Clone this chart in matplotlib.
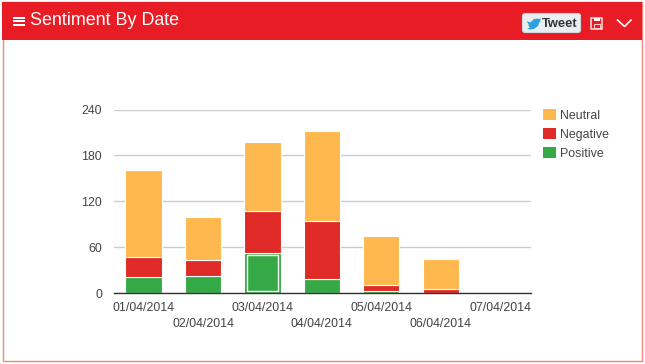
import matplotlib
matplotlib.use("Agg")
import matplotlib.pyplot as plt
from matplotlib.patches import Rectangle, FancyBboxPatch, Polygon, Patch

plt.rcParams['font.family'] = ['Liberation Sans', 'DejaVu Sans']

# Chart data
dates = ['01/04/2014', '02/04/2014', '03/04/2014', '04/04/2014', '05/04/2014', '06/04/2014', '07/04/2014']
positive = [21, 22, 53, 19, 3, 0, 0]
negative = [26, 22, 54, 76, 8, 6, 0]
neutral = [114, 56, 90, 117, 64, 39, 1]
y_ticks = [0, 60, 120, 180, 240]
title = 'Sentiment By Date'
hover_index = 2

W, H = 645, 364
RED = '#e71c24'
BORDER = '#ee8a7c'
C_NEU = '#ffb84d'
C_NEG = '#e02a27'
C_POS = '#36a947'
TXT = '#444444'

fig = plt.figure(figsize=(W / 100, H / 100), dpi=100)

# Overlay in pixel coords for the panel chrome
ov = fig.add_axes([0, 0, 1, 1], zorder=0)
ov.set_xlim(0, W)
ov.set_ylim(H, 0)
ov.axis('off')
ov.add_patch(Rectangle((2.5, 2), 639, 359, fc='white', ec=BORDER, lw=1))
ov.add_patch(Rectangle((2, 2), 640, 38, fc=RED, ec='none'))

# Hamburger icon
for y in [17.7, 21.3, 25]:
    ov.add_patch(Rectangle((13, y - 0.9), 12, 1.9, fc='white', ec='none'))
ov.text(30, 25, title, color='white', fontsize=12.85, ha='left', va='baseline')

# Tweet button
ov.add_patch(FancyBboxPatch((522.5, 13.5), 58, 19, boxstyle='round,pad=0,rounding_size=2.5',
                            fc='#e9eef1', ec='#d0d8dc', lw=0.8))
bird = [(527, 21), (530, 22.5), (532, 21), (534, 19), (537, 18.5), (539, 19), (541, 18.5),
        (540, 20.5), (541, 21), (539.5, 22), (538, 26), (534, 29), (530, 29.5), (527, 28.5),
        (530, 27.8), (528, 25), (529, 24.8), (527.5, 22.8)]
ov.add_patch(Polygon(bird, closed=True, fc='#2aa3dc', ec='none'))
ov.text(542, 27.3, 'Tweet', color='#333333', fontsize=9.3, fontweight='bold', ha='left', va='baseline')

# Save icon
ov.add_patch(Rectangle((591.3, 17.8), 10.5, 10.7, fc='none', ec='#ffe0e0', lw=1.1))
ov.add_patch(Rectangle((594, 17.8), 5.5, 3.5, fc='white', ec='none'))
ov.add_patch(Rectangle((594, 24.2), 5.5, 4.3, fc='none', ec='#ffd0d0', lw=0.7))

# Chevron
ov.plot([617.5, 624.5, 631], [20, 26.5, 20], color='white', lw=1.2)

# Plot area
left, right, top, bottom = 113.9, 531, 109.5, 293.3
ax = fig.add_axes([left / W, 1 - bottom / H, (right - left) / W, (bottom - top) / H], zorder=1)
ax.patch.set_alpha(0)
x = list(range(len(dates)))
bar_w = 0.61

neg_bottom = positive
neu_bottom = [p + n for p, n in zip(positive, negative)]
ax.bar(x, positive, bar_w, color=C_POS, edgecolor='white', linewidth=0.8, zorder=3)
ax.bar(x, negative, bar_w, bottom=neg_bottom, color=C_NEG, edgecolor='white', linewidth=0.8, zorder=3)
ax.bar(x, neutral, bar_w, bottom=neu_bottom, color=C_NEU, edgecolor='white',
       linewidth=[0.8] * 6 + [0], zorder=3)

# Hovered bar gets an inner white outline
ax.bar(hover_index, positive[hover_index] - 6.5, bar_w - 0.09, bottom=3.4, fc='none', ec='white', lw=1, zorder=4)

ax.set_xlim(-0.5, 6.52)
ax.set_ylim(0, 240)
ax.set_yticks(y_ticks)
ax.set_xticks(x)
ax.set_xticklabels([d if i % 2 == 0 else '\n' + d for i, d in enumerate(dates)], linespacing=1.5)
ax.tick_params(axis='both', length=0, labelsize=8.95, labelcolor=TXT)
ax.tick_params(axis='x', pad=6)
ax.tick_params(axis='y', pad=8.5)
ax.grid(axis='y', color='#cccccc', lw=1, zorder=1)
ax.set_axisbelow(True)
for s in ['top', 'right', 'left']:
    ax.spines[s].set_visible(False)
ax.spines['bottom'].set_color('#333333')
ax.spines['bottom'].set_linewidth(1)
ax.spines['bottom'].set_zorder(5)

# Legend
handles = [Patch(fc=C_NEU, ec='none'), Patch(fc=C_NEG, ec='none'), Patch(fc=C_POS, ec='none')]
fig.legend(handles, ['Neutral', 'Negative', 'Positive'], loc='upper left',
           bbox_to_anchor=(539.5 / W, 1 - 105.5 / H),
           frameon=False, fontsize=8.95, handlelength=1.0, handleheight=1.0, handletextpad=0.33,
           labelspacing=0.48, labelcolor=TXT, borderpad=0.3, borderaxespad=0)

fig.savefig('out.png', dpi=100)
